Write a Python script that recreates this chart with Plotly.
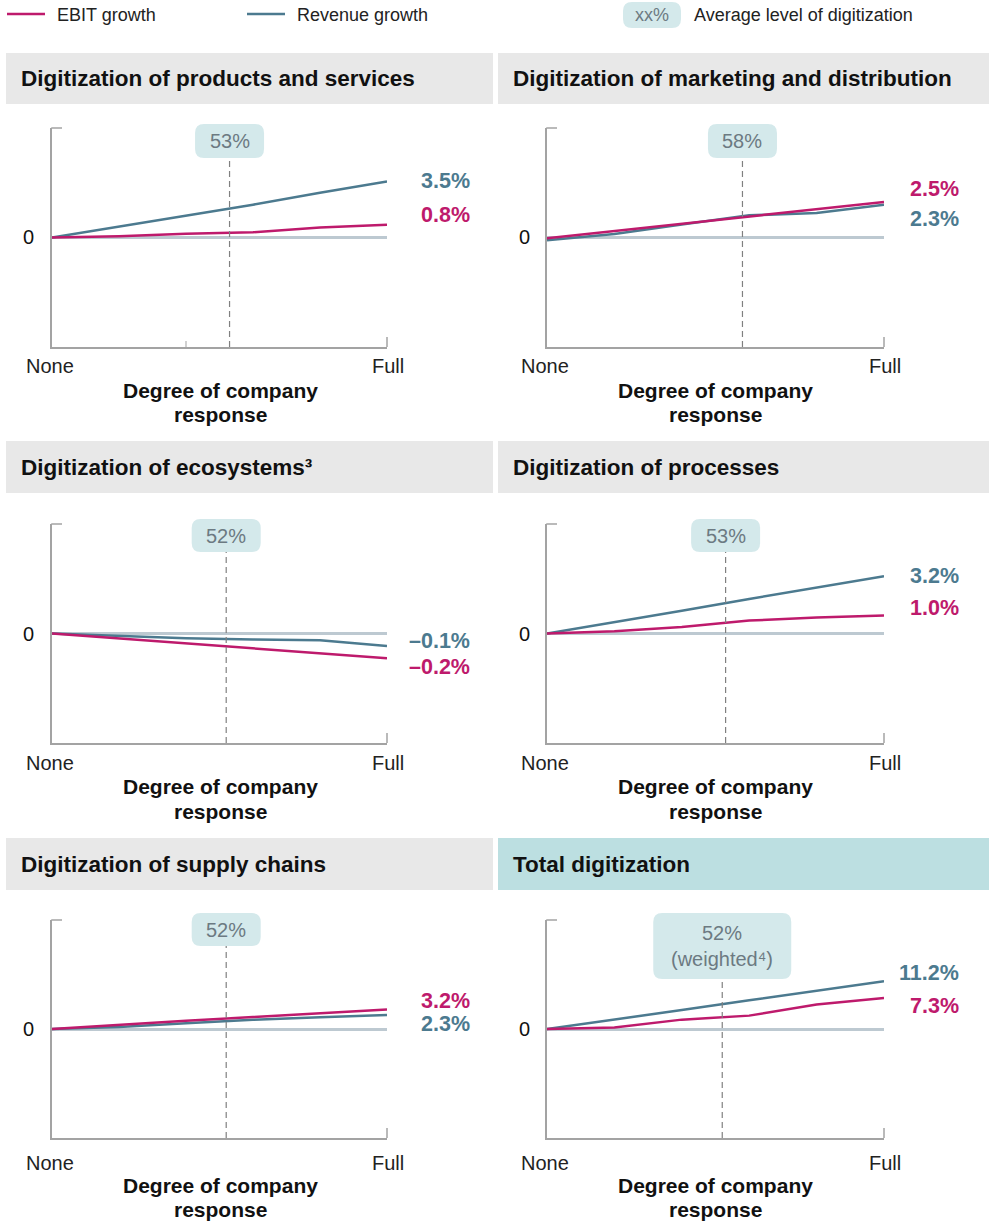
import plotly.graph_objects as go

# ---- data -------------------------------------------------------------
levels = [0, 20, 40, 60, 80, 100]  # degree of company response, None -> Full

titles = [
    "Digitization of products and services",
    "Digitization of marketing and distribution",
    "Digitization of ecosystems³",
    "Digitization of processes",
    "Digitization of supply chains",
    "Total digitization",
]
avg_levels = [53, 58, 52, 53, 52, 52]
avg_labels = ["53%", "58%", "52%", "53%", "52%", "52%<br>(weighted⁴)"]

ebit_products = [0, 0.08, 0.24, 0.33, 0.62, 0.8]
ebit_marketing = [-0.05, 0.45, 0.98, 1.5, 2.0, 2.5]
ebit_ecosystems = [0, -0.04, -0.08, -0.118, -0.154, -0.2]
ebit_processes = [0, 0.13, 0.36, 0.72, 0.9, 1.0]
ebit_supply = [0, 0.7, 1.35, 1.95, 2.6, 3.2]
ebit_total = [0, 0.37, 2.2, 3.14, 5.77, 7.3]

rev_products = [0, 0.68, 1.40, 2.05, 2.80, 3.5]
rev_marketing = [-0.2, 0.25, 0.91, 1.56, 1.72, 2.3]
rev_ecosystems = [0, -0.02, -0.038, -0.048, -0.054, -0.1]
rev_processes = [0, 0.62, 1.27, 1.93, 2.58, 3.2]
rev_supply = [0, 0.32, 0.92, 1.5, 1.93, 2.3]
rev_total = [0, 2.15, 4.45, 6.75, 8.95, 11.2]

ebit_series = [ebit_products, ebit_marketing, ebit_ecosystems,
               ebit_processes, ebit_supply, ebit_total]
rev_series = [rev_products, rev_marketing, rev_ecosystems,
              rev_processes, rev_supply, rev_total]

# which series' label sits on top at the right end of each panel
top_label_is_ebit = [False, True, False, False, True, False]

# ---- styling ----------------------------------------------------------
W, H = 994, 1221
FONT = "Liberation Sans, Arial, Helvetica, sans-serif"
EBIT_C = "#be1a6c"
REV_C = "#4c7a8f"
AXIS_C = "#a3a3a3"
ZERO_C = "#bdc9d1"
HEAD_GRAY = "#e8e8e8"
HEAD_TEAL = "#bcdfe1"
BUBBLE_C = "#d4e9eb"
BUBBLE_TXT = "#6c7a82"
TXT = "#111111"

y_half = [6.84, 7.71, 0.883, 6.12, 17.8, 25.6]

col_px = [(52, 387), (547, 884)]
row_px = [(128, 347), (524, 743), (920, 1138)]
head_row_px = [(53, 104), (441, 493), (838, 890)]
head_col_px = [(6, 493), (498, 989)]
bubble_row_px = [(124, 158), (519, 552), (913, 946)]
label_right_px = [472, 961]
end_label_px = [(181, 215), (189, 219), (641, 667), (576, 608), (1001, 1024), (973, 1006)]
none_full_y = [366, 763, 1163]
degree_y = [(390, 414), (787, 811), (1185, 1209)]
degree_x = [220, 715]
zero_lbl_x = [28, 524]


def px(xp):
    return xp / W


def py(yp):
    return 1 - yp / H


def rounded(w, h, r):
    hw, hh = w / 2, h / 2
    return (f"M {-hw + r},{-hh} L {hw - r},{-hh} Q {hw},{-hh} {hw},{-hh + r} "
            f"L {hw},{hh - r} Q {hw},{hh} {hw - r},{hh} L {-hw + r},{hh} "
            f"Q {-hw},{hh} {-hw},{hh - r} L {-hw},{-hh + r} Q {-hw},{-hh} {-hw + r},{-hh} Z")


def fmt(v):
    return f"{v:.1f}%".replace("-", "–")


fig = go.Figure()
shapes = []
annotations = []
layout_axes = {}

for i in range(6):
    r, c = divmod(i, 2)
    sfx = "" if i == 0 else str(i + 1)
    xa, ya = "x" + sfx, "y" + sfx
    x0p, x1p = col_px[c]
    topp, botp = row_px[r]

    layout_axes["xaxis" + sfx] = dict(
        domain=[px(x0p), px(x1p)], range=[0, 100], anchor=ya,
        showgrid=False, zeroline=False, showline=True, linecolor=AXIS_C,
        linewidth=1.5, showticklabels=False, ticks="", fixedrange=True)
    layout_axes["yaxis" + sfx] = dict(
        domain=[py(botp), py(topp)], range=[-y_half[i], y_half[i]], anchor=xa,
        showgrid=False, zeroline=True, zerolinecolor=ZERO_C, zerolinewidth=2.5,
        showline=True, linecolor=AXIS_C, linewidth=1.5, showticklabels=False,
        ticks="", fixedrange=True)

    fig.add_trace(go.Scatter(x=levels, y=rev_series[i], xaxis=xa, yaxis=ya,
                             mode="lines", line=dict(color=REV_C, width=2.5),
                             name="Revenue growth", showlegend=False))
    fig.add_trace(go.Scatter(x=levels, y=ebit_series[i], xaxis=xa, yaxis=ya,
                             mode="lines", line=dict(color=EBIT_C, width=2.5),
                             name="EBIT growth", showlegend=False))

    # header band
    h0, h1 = head_row_px[r]
    hx0, hx1 = head_col_px[c]
    shapes.append(dict(type="rect", xref="paper", yref="paper",
                       x0=px(hx0), x1=px(hx1), y0=py(h1), y1=py(h0),
                       fillcolor=HEAD_TEAL if i == 5 else HEAD_GRAY,
                       line=dict(width=0), layer="below"))
    annotations.append(dict(text=titles[i], xref="paper", yref="paper",
                            x=px(hx0 + 13), y=py((h0 + h1) / 2),
                            xanchor="left", yanchor="middle", showarrow=False,
                            font=dict(family=FONT, size=22.5, color=TXT, weight="bold")))

    # axis end ticks
    shapes.append(dict(type="line", xref="paper", yref="paper",
                       x0=px(x0p - 0.75), x1=px(x0p + 10), y0=py(topp), y1=py(topp),
                       line=dict(color=AXIS_C, width=1.5)))
    shapes.append(dict(type="line", xref="paper", yref="paper",
                       x0=px(x1p), x1=px(x1p), y0=py(botp), y1=py(botp - 10),
                       line=dict(color=AXIS_C, width=1.5)))
    if i == 0:
        shapes.append(dict(type="line", xref=xa, yref="paper",
                           x0=40, x1=40, y0=py(botp), y1=py(botp - 6),
                           line=dict(color=AXIS_C, width=1)))

    # average level marker
    if i == 5:
        b0, b1 = 913, 979
        bw = 138
    else:
        b0, b1 = bubble_row_px[r]
        bw = 69
    shapes.append(dict(type="line", xref=xa, yref="paper",
                       x0=avg_levels[i], x1=avg_levels[i], y0=py(botp), y1=py(b1),
                       line=dict(color="#808080", width=1.2, dash="6px,4px")))
    shapes.append(dict(type="path", xref=xa, yref="paper",
                       xsizemode="pixel", ysizemode="pixel",
                       xanchor=avg_levels[i], yanchor=py((b0 + b1) / 2),
                       path=rounded(bw, b1 - b0, 9),
                       fillcolor=BUBBLE_C, line=dict(width=0)))
    annotations.append(dict(text=avg_labels[i], xref=xa, yref="paper",
                            x=avg_levels[i], y=py((b0 + b1) / 2),
                            xanchor="center", yanchor="middle", showarrow=False,
                            font=dict(family=FONT, size=20, color=BUBBLE_TXT)))

    # end-of-line value labels
    ebit_lbl = (ebit_series[i][-1], EBIT_C)
    rev_lbl = (rev_series[i][-1], REV_C)
    order = (ebit_lbl, rev_lbl) if top_label_is_ebit[i] else (rev_lbl, ebit_lbl)
    for (val, col), yy in zip(order, end_label_px[i]):
        annotations.append(dict(text=fmt(val), xref="paper", yref="paper",
                                x=px(label_right_px[c]), y=py(yy),
                                xanchor="right", yanchor="middle", showarrow=False,
                                font=dict(family=FONT, size=21.5, color=col, weight="bold")))

    # axis texts
    zero_y = (topp + botp) / 2
    annotations.append(dict(text="0", xref="paper", yref="paper",
                            x=px(zero_lbl_x[c]), y=py(zero_y), xanchor="center",
                            yanchor="middle", showarrow=False,
                            font=dict(family=FONT, size=20, color=TXT)))
    for txt, xx in (("None", x0p - 2), ("Full", x1p + 1)):
        annotations.append(dict(text=txt, xref="paper", yref="paper",
                                x=px(xx), y=py(none_full_y[r]), xanchor="center",
                                yanchor="middle", showarrow=False,
                                font=dict(family=FONT, size=20, color="#222222")))
    for txt, yy in zip(("Degree of company", "response"), degree_y[r]):
        annotations.append(dict(text=txt, xref="paper", yref="paper",
                                x=px(degree_x[c]), y=py(yy), xanchor="center",
                                yanchor="middle", showarrow=False,
                                font=dict(family=FONT, size=21, color=TXT, weight="bold")))

# ---- key ----------------------------------------------------------------
for x0, x1, col, txt, tx in ((7, 45, EBIT_C, "EBIT growth", 55),
                             (247, 285, REV_C, "Revenue growth", 295)):
    shapes.append(dict(type="line", xref="paper", yref="paper",
                       x0=px(x0), x1=px(x1), y0=py(14), y1=py(14),
                       line=dict(color=col, width=2.5)))
    annotations.append(dict(text=txt, xref="paper", yref="paper",
                            x=px(tx), y=py(15), xanchor="left", yanchor="middle",
                            showarrow=False,
                            font=dict(family=FONT, size=18, color="#222222")))
shapes.append(dict(type="path", xref="paper", yref="paper",
                   xsizemode="pixel", ysizemode="pixel",
                   xanchor=px(652), yanchor=py(15),
                   path=rounded(58, 26, 9), fillcolor=BUBBLE_C, line=dict(width=0)))
annotations.append(dict(text="xx%", xref="paper", yref="paper", x=px(652), y=py(15),
                        xanchor="center", yanchor="middle", showarrow=False,
                        font=dict(family=FONT, size=18, color=BUBBLE_TXT)))
annotations.append(dict(text="Average level of digitization", xref="paper", yref="paper",
                        x=px(692), y=py(15), xanchor="left", yanchor="middle",
                        showarrow=False,
                        font=dict(family=FONT, size=18, color="#222222")))

fig.update_layout(
    width=W, height=H, margin=dict(l=0, r=0, t=0, b=0),
    paper_bgcolor="white", plot_bgcolor="rgba(0,0,0,0)",
    showlegend=False, shapes=shapes, annotations=annotations,
    font=dict(family=FONT), **layout_axes)

fig.write_html("out.html")
